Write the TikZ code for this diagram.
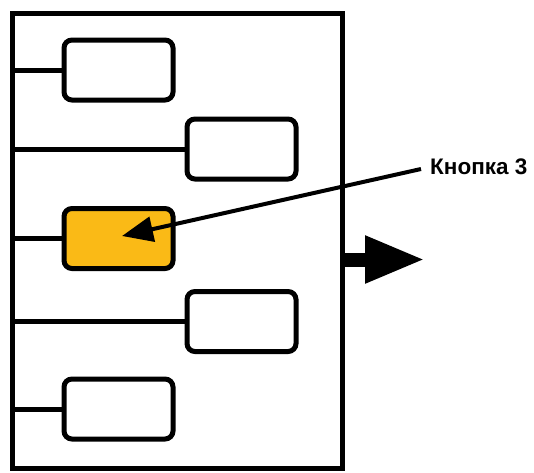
\documentclass[tikz,border=0pt]{standalone}
\usepackage{fontspec}
\setmainfont{Liberation Sans}
\usetikzlibrary{arrows.meta}
\definecolor{btnorange}{RGB}{250,186,22}
\tikzset{
  btn/.style={draw=black, line width=5pt, rounded corners=8pt, minimum width=109pt, minimum height=60pt, inner sep=0pt, outer sep=0pt, fill=white},
  wire/.style={draw=black, line width=5pt},
  panelbox/.style={draw=black, line width=5pt, minimum width=330.5pt, minimum height=454.5pt, inner sep=0pt, outer sep=0pt},
  callout/.style={draw=black, line width=4pt, -{Triangle[length=31pt,width=25pt]}},
  outarrow/.style={draw=black, line width=14pt, -{Triangle[length=60pt,width=44pt]}},
  lbl/.style={font=\bfseries\fontsize{22.5pt}{26pt}\selectfont, inner sep=0pt, anchor=base west}
}
\begin{document}
\begin{tikzpicture}[x=1pt,y=-1pt]
\useasboundingbox (0,0) rectangle (534,472);
\fill[white] (0,0) rectangle (534,472);
\node[panelbox] (panel) at (177.25,241) {};
\node[btn] (b1) at (118.5,70) {};
\node[btn] (b2) at (241.5,149) {};
\node[btn, fill=btnorange] (b3) at (118.5,238.5) {};
\node[btn] (b4) at (241.5,321.5) {};
\node[btn] (b5) at (118.5,409) {};
\foreach \b in {b1,b2,b3,b4,b5} {
  \draw[wire] (panel.west |- \b.west) -- (\b.west);
}
\node[lbl] (k3) at (430,174) {Кнопка 3};
\coordinate (k3start) at (421,169);
\coordinate (tip3) at (122,236);
\draw[callout] (k3start) -- (tip3);
\coordinate (outtip) at (425,259.5);
\draw[outarrow] (panel.east |- outtip) -- (outtip);
\end{tikzpicture}
\end{document}
